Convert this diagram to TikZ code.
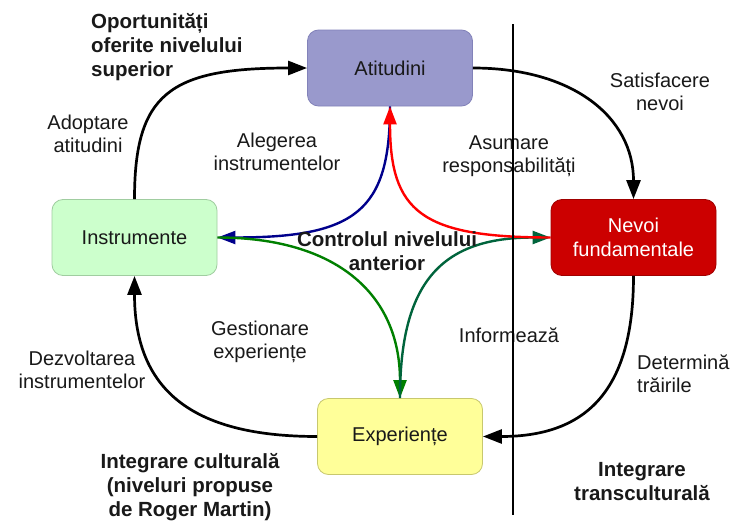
\documentclass[tikz,border=0pt]{standalone}
\usepackage{fontspec}
\setmainfont{Liberation Sans}
\usetikzlibrary{arrows.meta}
\definecolor{attfill}{RGB}{153,153,204}
\definecolor{attdraw}{RGB}{130,130,185}
\definecolor{nevfill}{RGB}{204,0,0}
\definecolor{nevdraw}{RGB}{160,0,0}
\definecolor{insfill}{RGB}{204,255,204}
\definecolor{insdraw}{RGB}{160,205,160}
\definecolor{expfill}{RGB}{255,255,153}
\definecolor{expdraw}{RGB}{200,200,110}
\definecolor{txt}{RGB}{25,25,25}
\definecolor{cblue}{RGB}{0,0,140}
\definecolor{cred}{RGB}{255,0,0}
\definecolor{cgreen}{RGB}{0,128,0}
\definecolor{cteal}{RGB}{0,100,60}
\begin{document}
\begin{tikzpicture}[x=1pt,y=-1pt,
  lbl/.style={font=\fontsize{20}{23}\selectfont, text=txt, align=center, inner sep=0pt},
  blbl/.style={font=\fontsize{20.5}{24}\selectfont\bfseries, text=txt, align=center, inner sep=0pt},
  box/.style={rounded corners=11pt, minimum width=165pt, minimum height=76pt, line width=0.8pt,
    font=\fontsize{20}{24}\selectfont, text=txt, align=center, inner sep=0pt},
  blk/.style={line width=2.7pt, black, -{Triangle[length=19pt,width=14pt]}},
  col/.style={line width=2.4pt, -{Triangle[length=18pt,width=13pt]}}
]
\useasboundingbox (0,0) rectangle (739,522);
\fill[white] (0,0) rectangle (739,522);

% boxes
\node[box, fill=attfill, draw=attdraw] (att) at (390,68) {Atitudini};
\node[box, fill=nevfill, draw=nevdraw, text=white] (nev) at (633.5,237.5) {Nevoi\\fundamentale};
\node[box, fill=insfill, draw=insdraw] (ins) at (134.5,237.5) {Instrumente};
\node[box, fill=expfill, draw=expdraw] (exp) at (400,436.5) {Experiențe};

% outer black cycle
\draw[blk] (ins.north) .. controls +(0,-105) and +(-138,0) .. (att.west);
\draw[blk] (att.east) .. controls +(100,0) and +(0,-82) .. (nev.north);
\draw[blk] (nev.south) .. controls +(0,113) and +(105,0) .. (exp.east);
\draw[blk] (exp.west) .. controls +(-128,0) and +(0,112) .. (ins.south);

% inner coloured cycle
\draw[col, cblue] (att.south) .. controls +(0,105) and +(138,0) .. (ins.east);
\draw[col, cgreen] (ins.east) .. controls +(119,0) and +(0,-104) .. (exp.north);
\draw[col, cteal] (exp.north) .. controls +(0,-115) and +(-110,0) .. (nev.west);
\draw[col, cred] (nev.west) .. controls +(-130,0) and +(0,105) .. (att.south);

% labels
\node[blbl, align=left, anchor=west] (opp) at (91,47) {Oportunități\\oferite nivelului\\superior};
\node[lbl] (adopt) at (88,134) {Adoptare\\atitudini};
\node[lbl] (aleg) at (277,152) {Alegerea\\instrumentelor};
\node[lbl] (asum) at (509,156) {Asumare\\responsabilități};
\node[lbl] (satis) at (660,92) {Satisfacere\\nevoi};
\node[blbl] (ctrl) at (387,251) {Controlul nivelului\\anterior};
\node[lbl] (gest) at (260,342) {Gestionare\\experiențe};
\node[lbl] (dezv) at (82,370) {Dezvoltarea\\instrumentelor};
\node[lbl] (inform) at (509,335) {Informează};
\node[lbl, align=left, anchor=west] (determ) at (637,374) {Determină\\trăirile};
\node[blbl] (icult) at (190,487) {Integrare culturală\\(niveluri propuse\\de Roger Martin)};
\node[blbl] (itrans) at (642,482) {Integrare\\transculturală};

% divider
\coordinate (vtop) at (513,24);
\coordinate (vbot) at (513,515);
\draw[line width=2.6pt, black] (vtop) -- (vbot);
\end{tikzpicture}
\end{document}
